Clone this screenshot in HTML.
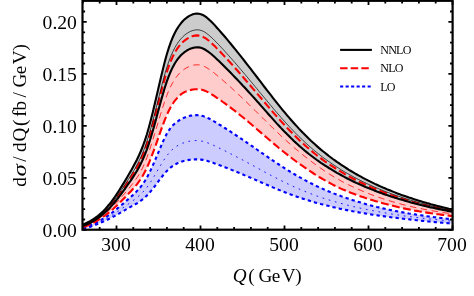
<!DOCTYPE html><html><head><meta charset="utf-8"><style>
html,body{margin:0;padding:0;background:#fff;}
body{width:474px;height:296px;position:relative;overflow:hidden;font-family:"Liberation Serif",serif;color:#000;}
.t{position:absolute;white-space:pre;line-height:1;}
.yl{font-size:19.6px;width:60px;text-align:right;left:16.9px;}
.xl{font-size:19.6px;width:60px;text-align:center;}
.lg{font-size:12px;left:380.2px;letter-spacing:-0.7px;}
#ylab span,#xlab span{position:absolute;line-height:1;top:-16.08px;white-space:pre;}
</style></head><body>
<svg width="474" height="296" viewBox="0 0 474 296" style="position:absolute;left:0;top:0">
<defs><clipPath id="c"><rect x="82.7" y="0.8" width="369.9" height="228.6"/></clipPath></defs>
<g clip-path="url(#c)" fill="none" stroke-linejoin="round">
<path d="M82.9,227.5L84.9,227.0L86.9,226.4L88.9,225.7L90.9,224.9L92.9,224.1L94.9,223.1L96.9,222.1L98.9,221.0L100.9,220.0L102.9,218.8L104.9,217.6L106.9,216.4L108.9,215.0L110.9,213.6L112.9,212.1L114.9,210.6L116.9,208.9L118.9,207.3L120.9,205.6L122.9,203.9L124.9,202.2L126.9,200.4L128.9,198.7L130.9,196.9L132.9,195.1L134.9,193.2L136.9,191.1L138.9,189.0L140.9,186.6L142.9,183.9L144.9,181.0L146.9,177.5L148.9,173.7L150.9,169.6L152.9,165.2L154.9,160.6L156.9,155.9L158.9,151.1L160.9,146.4L162.9,141.8L164.9,137.5L166.9,133.6L168.9,130.3L170.9,127.5L172.9,125.3L174.9,123.4L176.9,121.9L178.9,120.5L180.9,119.3L182.9,118.2L184.9,117.4L186.9,116.7L188.9,116.1L190.9,115.6L192.9,115.3L194.9,115.1L196.9,115.1L198.9,115.2L200.9,115.6L202.9,116.1L204.9,116.7L206.9,117.5L208.9,118.5L210.9,119.5L212.9,120.7L214.9,121.8L216.9,123.0L218.9,124.3L220.9,125.5L222.9,126.7L224.9,128.0L226.9,129.3L228.9,130.6L230.9,131.9L232.9,133.2L234.9,134.5L236.9,135.8L238.9,137.2L240.9,138.5L242.9,139.9L244.9,141.2L246.9,142.6L248.9,144.0L250.9,145.4L252.9,146.7L254.9,148.1L256.9,149.5L258.9,150.9L260.9,152.3L262.9,153.7L264.9,155.1L266.9,156.4L268.9,157.8L270.9,159.2L272.9,160.5L274.9,161.9L276.9,163.2L278.9,164.5L280.9,165.8L282.9,167.1L284.9,168.4L286.9,169.7L288.9,170.9L290.9,172.1L292.9,173.3L294.9,174.5L296.9,175.7L298.9,176.8L300.9,177.9L302.9,179.0L304.9,180.1L306.9,181.2L308.9,182.2L310.9,183.3L312.9,184.3L314.9,185.2L316.9,186.2L318.9,187.1L320.9,188.0L322.9,188.9L324.9,189.8L326.9,190.7L328.9,191.5L330.9,192.3L332.9,193.1L334.9,193.9L336.9,194.7L338.9,195.4L340.9,196.1L342.9,196.9L344.9,197.6L346.9,198.2L348.9,198.9L350.9,199.6L352.9,200.2L354.9,200.8L356.9,201.4L358.9,202.0L360.9,202.6L362.9,203.2L364.9,203.8L366.9,204.4L368.9,204.9L370.9,205.4L372.9,206.0L374.9,206.5L376.9,207.0L378.9,207.4L380.9,207.9L382.9,208.4L384.9,208.8L386.9,209.3L388.9,209.7L390.9,210.1L392.9,210.5L394.9,210.9L396.9,211.3L398.9,211.7L400.9,212.1L402.9,212.4L404.9,212.8L406.9,213.1L408.9,213.5L410.9,213.8L412.9,214.1L414.9,214.4L416.9,214.8L418.9,215.1L420.9,215.3L422.9,215.6L424.9,215.9L426.9,216.2L428.9,216.5L430.9,216.7L432.9,217.0L434.9,217.2L436.9,217.5L438.9,217.7L440.9,218.0L442.9,218.2L444.9,218.4L446.9,218.7L448.9,218.9L450.9,219.1L452.5,219.3L452.5,223.6L450.9,223.5L448.9,223.3L446.9,223.1L444.9,223.0L442.9,222.8L440.9,222.6L438.9,222.4L436.9,222.3L434.9,222.1L432.9,221.9L430.9,221.7L428.9,221.5L426.9,221.3L424.9,221.1L422.9,220.9L420.9,220.7L418.9,220.5L416.9,220.2L414.9,220.0L412.9,219.8L410.9,219.6L408.9,219.3L406.9,219.1L404.9,218.9L402.9,218.7L400.9,218.4L398.9,218.2L396.9,217.9L394.9,217.7L392.9,217.5L390.9,217.2L388.9,216.9L386.9,216.7L384.9,216.4L382.9,216.1L380.9,215.9L378.9,215.6L376.9,215.3L374.9,215.0L372.9,214.7L370.9,214.4L368.9,214.1L366.9,213.7L364.9,213.4L362.9,213.1L360.9,212.7L358.9,212.4L356.9,212.0L354.9,211.6L352.9,211.3L350.9,210.9L348.9,210.5L346.9,210.1L344.9,209.7L342.9,209.3L340.9,208.9L338.9,208.4L336.9,208.0L334.9,207.5L332.9,207.1L330.9,206.6L328.9,206.1L326.9,205.6L324.9,205.1L322.9,204.6L320.9,204.1L318.9,203.5L316.9,203.0L314.9,202.4L312.9,201.8L310.9,201.3L308.9,200.6L306.9,200.0L304.9,199.4L302.9,198.7L300.9,198.1L298.9,197.4L296.9,196.7L294.9,196.0L292.9,195.3L290.9,194.6L288.9,193.8L286.9,193.1L284.9,192.3L282.9,191.5L280.9,190.7L278.9,189.9L276.9,189.1L274.9,188.2L272.9,187.4L270.9,186.5L268.9,185.7L266.9,184.8L264.9,184.0L262.9,183.1L260.9,182.2L258.9,181.4L256.9,180.5L254.9,179.6L252.9,178.8L250.9,177.9L248.9,177.0L246.9,176.2L244.9,175.4L242.9,174.5L240.9,173.7L238.9,172.8L236.9,172.0L234.9,171.2L232.9,170.4L230.9,169.6L228.9,168.8L226.9,168.0L224.9,167.2L222.9,166.5L220.9,165.7L218.9,164.9L216.9,164.2L214.9,163.5L212.9,162.7L210.9,162.1L208.9,161.4L206.9,160.8L204.9,160.3L202.9,159.9L200.9,159.6L198.9,159.4L196.9,159.4L194.9,159.4L192.9,159.5L190.9,159.7L188.9,159.9L186.9,160.3L184.9,160.7L182.9,161.2L180.9,161.9L178.9,162.6L176.9,163.5L174.9,164.6L172.9,165.8L170.9,167.3L168.9,168.9L166.9,170.9L164.9,173.1L162.9,175.5L160.9,178.1L158.9,180.7L156.9,183.4L154.9,186.1L152.9,188.6L150.9,191.1L148.9,193.4L146.9,195.6L144.9,197.5L142.9,199.2L140.9,200.7L138.9,202.0L136.9,203.3L134.9,204.5L132.9,205.6L130.9,206.7L128.9,207.9L126.9,209.0L124.9,210.1L122.9,211.3L120.9,212.4L118.9,213.6L116.9,214.7L114.9,215.8L112.9,216.9L110.9,218.0L108.9,219.0L106.9,220.0L104.9,220.9L102.9,221.7L100.9,222.5L98.9,223.3L96.9,224.2L94.9,225.0L92.9,225.8L90.9,226.6L88.9,227.3L86.9,227.8L84.9,228.3L82.9,228.6Z" fill="#ccccff" stroke="none"/>
<path d="M82.9,225.4L84.9,224.7L86.9,223.9L88.9,223.0L90.9,222.0L92.9,220.9L94.9,219.7L96.9,218.3L98.9,216.8L100.9,215.3L102.9,213.6L104.9,211.7L106.9,209.8L108.9,207.7L110.9,205.4L112.9,203.0L114.9,200.5L116.9,197.9L118.9,195.2L120.9,192.4L122.9,189.5L124.9,186.5L126.9,183.6L128.9,180.5L130.9,177.5L132.9,174.3L134.9,170.9L136.9,167.4L138.9,163.7L140.9,159.6L142.9,155.1L144.9,150.1L146.9,144.4L148.9,138.1L150.9,131.2L152.9,123.9L154.9,116.3L156.9,108.5L158.9,100.6L160.9,92.8L162.9,85.2L164.9,78.1L166.9,71.6L168.9,65.8L170.9,60.7L172.9,56.3L174.9,52.5L176.9,49.2L178.9,46.4L180.9,44.0L182.9,42.0L184.9,40.3L186.9,38.9L188.9,37.7L190.9,36.7L192.9,36.0L194.9,35.6L196.9,35.4L198.9,35.6L200.9,36.0L202.9,36.8L204.9,37.9L206.9,39.2L208.9,40.8L210.9,42.5L212.9,44.4L214.9,46.3L216.9,48.4L218.9,50.4L220.9,52.5L222.9,54.6L224.9,56.8L226.9,58.9L228.9,61.1L230.9,63.3L232.9,65.5L234.9,67.8L236.9,70.0L238.9,72.3L240.9,74.6L242.9,76.9L244.9,79.2L246.9,81.6L248.9,83.9L250.9,86.2L252.9,88.6L254.9,90.9L256.9,93.3L258.9,95.6L260.9,98.0L262.9,100.4L264.9,102.7L266.9,105.1L268.9,107.4L270.9,109.8L272.9,112.1L274.9,114.4L276.9,116.6L278.9,118.9L280.9,121.1L282.9,123.3L284.9,125.5L286.9,127.6L288.9,129.7L290.9,131.8L292.9,133.8L294.9,135.8L296.9,137.8L298.9,139.7L300.9,141.6L302.9,143.4L304.9,145.2L306.9,147.0L308.9,148.7L310.9,150.4L312.9,152.1L314.9,153.7L316.9,155.3L318.9,156.8L320.9,158.3L322.9,159.8L324.9,161.3L326.9,162.7L328.9,164.1L330.9,165.4L332.9,166.7L334.9,168.0L336.9,169.3L338.9,170.5L340.9,171.7L342.9,172.9L344.9,174.1L346.9,175.2L348.9,176.3L350.9,177.4L352.9,178.5L354.9,179.5L356.9,180.6L358.9,181.6L360.9,182.5L362.9,183.5L364.9,184.4L366.9,185.3L368.9,186.2L370.9,187.1L372.9,188.0L374.9,188.8L376.9,189.6L378.9,190.4L380.9,191.2L382.9,192.0L384.9,192.8L386.9,193.5L388.9,194.2L390.9,195.0L392.9,195.7L394.9,196.3L396.9,197.0L398.9,197.7L400.9,198.3L402.9,199.0L404.9,199.6L406.9,200.2L408.9,200.8L410.9,201.3L412.9,201.9L414.9,202.4L416.9,203.0L418.9,203.5L420.9,204.0L422.9,204.5L424.9,205.0L426.9,205.5L428.9,206.0L430.9,206.4L432.9,206.9L434.9,207.3L436.9,207.8L438.9,208.2L440.9,208.6L442.9,209.0L444.9,209.4L446.9,209.8L448.9,210.2L450.9,210.6L452.5,210.9L452.5,216.1L450.9,215.9L448.9,215.6L446.9,215.4L444.9,215.1L442.9,214.9L440.9,214.6L438.9,214.3L436.9,214.1L434.9,213.8L432.9,213.5L430.9,213.2L428.9,212.9L426.9,212.6L424.9,212.3L422.9,211.9L420.9,211.6L418.9,211.3L416.9,210.9L414.9,210.6L412.9,210.2L410.9,209.8L408.9,209.4L406.9,209.0L404.9,208.6L402.9,208.2L400.9,207.7L398.9,207.3L396.9,206.8L394.9,206.3L392.9,205.8L390.9,205.3L388.9,204.8L386.9,204.3L384.9,203.8L382.9,203.2L380.9,202.7L378.9,202.1L376.9,201.5L374.9,200.9L372.9,200.3L370.9,199.7L368.9,199.1L366.9,198.4L364.9,197.8L362.9,197.1L360.9,196.4L358.9,195.7L356.9,195.0L354.9,194.3L352.9,193.5L350.9,192.8L348.9,192.0L346.9,191.2L344.9,190.3L342.9,189.5L340.9,188.6L338.9,187.6L336.9,186.7L334.9,185.7L332.9,184.7L330.9,183.6L328.9,182.5L326.9,181.4L324.9,180.3L322.9,179.2L320.9,178.0L318.9,176.8L316.9,175.5L314.9,174.3L312.9,173.0L310.9,171.7L308.9,170.3L306.9,169.0L304.9,167.6L302.9,166.2L300.9,164.8L298.9,163.4L296.9,162.0L294.9,160.5L292.9,159.0L290.9,157.5L288.9,156.0L286.9,154.4L284.9,152.8L282.9,151.2L280.9,149.6L278.9,148.0L276.9,146.3L274.9,144.6L272.9,142.9L270.9,141.2L268.9,139.5L266.9,137.8L264.9,136.1L262.9,134.4L260.9,132.6L258.9,130.9L256.9,129.2L254.9,127.5L252.9,125.7L250.9,124.0L248.9,122.3L246.9,120.7L244.9,119.0L242.9,117.3L240.9,115.7L238.9,114.1L236.9,112.5L234.9,110.9L232.9,109.4L230.9,107.9L228.9,106.4L226.9,104.9L224.9,103.4L222.9,102.0L220.9,100.5L218.9,99.1L216.9,97.8L214.9,96.4L212.9,95.1L210.9,93.8L208.9,92.7L206.9,91.6L204.9,90.7L202.9,90.0L200.9,89.5L198.9,89.2L196.9,89.2L194.9,89.3L192.9,89.5L190.9,89.9L188.9,90.4L186.9,91.1L184.9,91.9L182.9,93.0L180.9,94.4L178.9,96.2L176.9,98.3L174.9,100.7L172.9,103.5L170.9,106.8L168.9,110.5L166.9,114.8L164.9,119.6L162.9,124.9L160.9,130.4L158.9,136.1L156.9,141.8L154.9,147.4L152.9,152.9L150.9,158.2L148.9,163.2L146.9,167.7L144.9,171.8L142.9,175.5L140.9,178.7L138.9,181.6L136.9,184.3L134.9,186.7L132.9,189.0L130.9,191.2L128.9,193.3L126.9,195.4L124.9,197.5L122.9,199.5L120.9,201.5L118.9,203.5L116.9,205.5L114.9,207.3L112.9,209.2L110.9,210.9L108.9,212.6L106.9,214.1L104.9,215.6L102.9,217.0L100.9,218.3L98.9,219.6L96.9,220.8L94.9,222.0L92.9,223.1L90.9,224.1L88.9,225.0L86.9,225.8L84.9,226.5L82.9,227.1Z" fill="#ffcccc" stroke="none"/>
<path d="M82.9,224.4L84.9,223.6L86.9,222.8L88.9,221.8L90.9,220.7L92.9,219.5L94.9,218.2L96.9,216.7L98.9,215.1L100.9,213.3L102.9,211.4L104.9,209.4L106.9,207.1L108.9,204.8L110.9,202.3L112.9,199.6L114.9,196.8L116.9,193.8L118.9,190.8L120.9,187.6L122.9,184.4L124.9,181.1L126.9,177.7L128.9,174.3L130.9,170.9L132.9,167.3L134.9,163.6L136.9,159.7L138.9,155.5L140.9,151.0L142.9,146.0L144.9,140.4L146.9,134.2L148.9,127.2L150.9,119.7L152.9,111.7L154.9,103.3L156.9,94.8L158.9,86.1L160.9,77.5L162.9,69.2L164.9,61.3L166.9,54.0L168.9,47.6L170.9,41.9L172.9,37.0L174.9,32.8L176.9,29.1L178.9,26.0L180.9,23.3L182.9,21.0L184.9,19.1L186.9,17.5L188.9,16.2L190.9,15.1L192.9,14.3L194.9,13.8L196.9,13.6L198.9,13.7L200.9,14.2L202.9,15.0L204.9,16.2L206.9,17.7L208.9,19.4L210.9,21.3L212.9,23.3L214.9,25.4L216.9,27.7L218.9,29.9L220.9,32.2L222.9,34.5L224.9,36.8L226.9,39.2L228.9,41.6L230.9,44.0L232.9,46.5L234.9,48.9L236.9,51.4L238.9,53.9L240.9,56.4L242.9,58.9L244.9,61.5L246.9,64.1L248.9,66.6L250.9,69.2L252.9,71.8L254.9,74.4L256.9,77.0L258.9,79.6L260.9,82.2L262.9,84.9L264.9,87.5L266.9,90.1L268.9,92.7L270.9,95.2L272.9,97.8L274.9,100.4L276.9,102.9L278.9,105.4L280.9,107.8L282.9,110.3L284.9,112.7L286.9,115.1L288.9,117.4L290.9,119.7L292.9,122.0L294.9,124.2L296.9,126.4L298.9,128.6L300.9,130.7L302.9,132.8L304.9,134.8L306.9,136.8L308.9,138.8L310.9,140.7L312.9,142.5L314.9,144.3L316.9,146.1L318.9,147.9L320.9,149.6L322.9,151.2L324.9,152.8L326.9,154.4L328.9,156.0L330.9,157.5L332.9,159.0L334.9,160.4L336.9,161.9L338.9,163.2L340.9,164.6L342.9,165.9L344.9,167.2L346.9,168.5L348.9,169.8L350.9,171.0L352.9,172.2L354.9,173.4L356.9,174.5L358.9,175.6L360.9,176.7L362.9,177.8L364.9,178.9L366.9,179.9L368.9,180.9L370.9,181.9L372.9,182.9L374.9,183.9L376.9,184.8L378.9,185.7L380.9,186.6L382.9,187.5L384.9,188.3L386.9,189.2L388.9,190.0L390.9,190.8L392.9,191.6L394.9,192.4L396.9,193.2L398.9,193.9L400.9,194.7L402.9,195.4L404.9,196.1L406.9,196.8L408.9,197.5L410.9,198.1L412.9,198.8L414.9,199.4L416.9,200.1L418.9,200.7L420.9,201.3L422.9,201.9L424.9,202.5L426.9,203.1L428.9,203.6L430.9,204.2L432.9,204.7L434.9,205.2L436.9,205.8L438.9,206.3L440.9,206.8L442.9,207.3L444.9,207.7L446.9,208.2L448.9,208.7L450.9,209.1L452.5,209.5L452.5,211.8L450.9,211.5L448.9,211.1L446.9,210.7L444.9,210.3L442.9,209.9L440.9,209.5L438.9,209.1L436.9,208.7L434.9,208.2L432.9,207.8L430.9,207.4L428.9,206.9L426.9,206.4L424.9,206.0L422.9,205.5L420.9,205.0L418.9,204.5L416.9,204.0L414.9,203.5L412.9,202.9L410.9,202.4L408.9,201.8L406.9,201.3L404.9,200.7L402.9,200.1L400.9,199.5L398.9,198.9L396.9,198.3L394.9,197.7L392.9,197.0L390.9,196.4L388.9,195.7L386.9,195.0L384.9,194.4L382.9,193.7L380.9,192.9L378.9,192.2L376.9,191.5L374.9,190.7L372.9,189.9L370.9,189.1L368.9,188.3L366.9,187.5L364.9,186.7L362.9,185.8L360.9,184.9L358.9,184.0L356.9,183.1L354.9,182.2L352.9,181.2L350.9,180.2L348.9,179.2L346.9,178.2L344.9,177.2L342.9,176.1L340.9,175.0L338.9,173.9L336.9,172.8L334.9,171.6L332.9,170.4L330.9,169.2L328.9,168.0L326.9,166.7L324.9,165.5L322.9,164.1L320.9,162.8L318.9,161.4L316.9,160.0L314.9,158.5L312.9,157.0L310.9,155.5L308.9,154.0L306.9,152.4L304.9,150.7L302.9,149.0L300.9,147.3L298.9,145.6L296.9,143.7L294.9,141.9L292.9,140.0L290.9,138.1L288.9,136.1L286.9,134.1L284.9,132.1L282.9,130.0L280.9,127.9L278.9,125.7L276.9,123.6L274.9,121.4L272.9,119.1L270.9,116.9L268.9,114.7L266.9,112.4L264.9,110.1L262.9,107.9L260.9,105.6L258.9,103.3L256.9,101.1L254.9,98.8L252.9,96.6L250.9,94.4L248.9,92.2L246.9,90.0L244.9,87.8L242.9,85.7L240.9,83.5L238.9,81.4L236.9,79.3L234.9,77.2L232.9,75.1L230.9,73.0L228.9,71.0L226.9,69.0L224.9,67.0L222.9,65.0L220.9,63.0L218.9,61.1L216.9,59.2L214.9,57.3L212.9,55.5L210.9,53.8L208.9,52.2L206.9,50.8L204.9,49.5L202.9,48.5L200.9,47.8L198.9,47.4L196.9,47.3L194.9,47.5L192.9,47.9L190.9,48.5L188.9,49.4L186.9,50.5L184.9,51.9L182.9,53.5L180.9,55.3L178.9,57.6L176.9,60.2L174.9,63.3L172.9,66.9L170.9,71.0L168.9,75.8L166.9,81.2L164.9,87.3L162.9,94.1L160.9,101.2L158.9,108.6L156.9,116.0L154.9,123.4L152.9,130.5L150.9,137.2L148.9,143.6L146.9,149.4L144.9,154.7L142.9,159.4L140.9,163.5L138.9,167.4L136.9,170.9L134.9,174.2L132.9,177.3L130.9,180.3L128.9,183.2L126.9,186.0L124.9,188.8L122.9,191.6L120.9,194.3L118.9,197.0L116.9,199.5L114.9,202.0L112.9,204.4L110.9,206.6L108.9,208.7L106.9,210.7L104.9,212.6L102.9,214.3L100.9,215.9L98.9,217.4L96.9,218.8L94.9,220.1L92.9,221.4L90.9,222.5L88.9,223.5L86.9,224.4L84.9,225.2L82.9,225.8Z" fill="#cccccc" stroke="none"/>
<path d="M82.9,227.5L84.9,227.0L86.9,226.4L88.9,225.7L90.9,224.9L92.9,224.1L94.9,223.1L96.9,222.1L98.9,221.0L100.9,220.0L102.9,218.8L104.9,217.6L106.9,216.4L108.9,215.0L110.9,213.6L112.9,212.1L114.9,210.6L116.9,208.9L118.9,207.3L120.9,205.6L122.9,203.9L124.9,202.2L126.9,200.4L128.9,198.7L130.9,196.9L132.9,195.1L134.9,193.2L136.9,191.1L138.9,189.0L140.9,186.6L142.9,183.9L144.9,181.0L146.9,177.5L148.9,173.7L150.9,169.6L152.9,165.2L154.9,160.6L156.9,155.9L158.9,151.1L160.9,146.4L162.9,141.8L164.9,137.5L166.9,133.6L168.9,130.3L170.9,127.5L172.9,125.3L174.9,123.4L176.9,121.9L178.9,120.5L180.9,119.3L182.9,118.2L184.9,117.4L186.9,116.7L188.9,116.1L190.9,115.6L192.9,115.3L194.9,115.1L196.9,115.1L198.9,115.2L200.9,115.6L202.9,116.1L204.9,116.7L206.9,117.5L208.9,118.5L210.9,119.5L212.9,120.7L214.9,121.8L216.9,123.0L218.9,124.3L220.9,125.5L222.9,126.7L224.9,128.0L226.9,129.3L228.9,130.6L230.9,131.9L232.9,133.2L234.9,134.5L236.9,135.8L238.9,137.2L240.9,138.5L242.9,139.9L244.9,141.2L246.9,142.6L248.9,144.0L250.9,145.4L252.9,146.7L254.9,148.1L256.9,149.5L258.9,150.9L260.9,152.3L262.9,153.7L264.9,155.1L266.9,156.4L268.9,157.8L270.9,159.2L272.9,160.5L274.9,161.9L276.9,163.2L278.9,164.5L280.9,165.8L282.9,167.1L284.9,168.4L286.9,169.7L288.9,170.9L290.9,172.1L292.9,173.3L294.9,174.5L296.9,175.7L298.9,176.8L300.9,177.9L302.9,179.0L304.9,180.1L306.9,181.2L308.9,182.2L310.9,183.3L312.9,184.3L314.9,185.2L316.9,186.2L318.9,187.1L320.9,188.0L322.9,188.9L324.9,189.8L326.9,190.7L328.9,191.5L330.9,192.3L332.9,193.1L334.9,193.9L336.9,194.7L338.9,195.4L340.9,196.1L342.9,196.9L344.9,197.6L346.9,198.2L348.9,198.9L350.9,199.6L352.9,200.2L354.9,200.8L356.9,201.4L358.9,202.0L360.9,202.6L362.9,203.2L364.9,203.8L366.9,204.4L368.9,204.9L370.9,205.4L372.9,206.0L374.9,206.5L376.9,207.0L378.9,207.4L380.9,207.9L382.9,208.4L384.9,208.8L386.9,209.3L388.9,209.7L390.9,210.1L392.9,210.5L394.9,210.9L396.9,211.3L398.9,211.7L400.9,212.1L402.9,212.4L404.9,212.8L406.9,213.1L408.9,213.5L410.9,213.8L412.9,214.1L414.9,214.4L416.9,214.8L418.9,215.1L420.9,215.3L422.9,215.6L424.9,215.9L426.9,216.2L428.9,216.5L430.9,216.7L432.9,217.0L434.9,217.2L436.9,217.5L438.9,217.7L440.9,218.0L442.9,218.2L444.9,218.4L446.9,218.7L448.9,218.9L450.9,219.1L452.5,219.3" stroke="#0000ff" stroke-width="2.1" stroke-dasharray="3.3,3.1"/>
<path d="M82.9,228.6L84.9,228.3L86.9,227.8L88.9,227.3L90.9,226.6L92.9,225.8L94.9,225.0L96.9,224.2L98.9,223.3L100.9,222.5L102.9,221.7L104.9,220.9L106.9,220.0L108.9,219.0L110.9,218.0L112.9,216.9L114.9,215.8L116.9,214.7L118.9,213.6L120.9,212.4L122.9,211.3L124.9,210.1L126.9,209.0L128.9,207.9L130.9,206.7L132.9,205.6L134.9,204.5L136.9,203.3L138.9,202.0L140.9,200.7L142.9,199.2L144.9,197.5L146.9,195.6L148.9,193.4L150.9,191.1L152.9,188.6L154.9,186.1L156.9,183.4L158.9,180.7L160.9,178.1L162.9,175.5L164.9,173.1L166.9,170.9L168.9,168.9L170.9,167.3L172.9,165.8L174.9,164.6L176.9,163.5L178.9,162.6L180.9,161.9L182.9,161.2L184.9,160.7L186.9,160.3L188.9,159.9L190.9,159.7L192.9,159.5L194.9,159.4L196.9,159.4L198.9,159.4L200.9,159.6L202.9,159.9L204.9,160.3L206.9,160.8L208.9,161.4L210.9,162.1L212.9,162.7L214.9,163.5L216.9,164.2L218.9,164.9L220.9,165.7L222.9,166.5L224.9,167.2L226.9,168.0L228.9,168.8L230.9,169.6L232.9,170.4L234.9,171.2L236.9,172.0L238.9,172.8L240.9,173.7L242.9,174.5L244.9,175.4L246.9,176.2L248.9,177.0L250.9,177.9L252.9,178.8L254.9,179.6L256.9,180.5L258.9,181.4L260.9,182.2L262.9,183.1L264.9,184.0L266.9,184.8L268.9,185.7L270.9,186.5L272.9,187.4L274.9,188.2L276.9,189.1L278.9,189.9L280.9,190.7L282.9,191.5L284.9,192.3L286.9,193.1L288.9,193.8L290.9,194.6L292.9,195.3L294.9,196.0L296.9,196.7L298.9,197.4L300.9,198.1L302.9,198.7L304.9,199.4L306.9,200.0L308.9,200.6L310.9,201.3L312.9,201.8L314.9,202.4L316.9,203.0L318.9,203.5L320.9,204.1L322.9,204.6L324.9,205.1L326.9,205.6L328.9,206.1L330.9,206.6L332.9,207.1L334.9,207.5L336.9,208.0L338.9,208.4L340.9,208.9L342.9,209.3L344.9,209.7L346.9,210.1L348.9,210.5L350.9,210.9L352.9,211.3L354.9,211.6L356.9,212.0L358.9,212.4L360.9,212.7L362.9,213.1L364.9,213.4L366.9,213.7L368.9,214.1L370.9,214.4L372.9,214.7L374.9,215.0L376.9,215.3L378.9,215.6L380.9,215.9L382.9,216.1L384.9,216.4L386.9,216.7L388.9,216.9L390.9,217.2L392.9,217.5L394.9,217.7L396.9,217.9L398.9,218.2L400.9,218.4L402.9,218.7L404.9,218.9L406.9,219.1L408.9,219.3L410.9,219.6L412.9,219.8L414.9,220.0L416.9,220.2L418.9,220.5L420.9,220.7L422.9,220.9L424.9,221.1L426.9,221.3L428.9,221.5L430.9,221.7L432.9,221.9L434.9,222.1L436.9,222.3L438.9,222.4L440.9,222.6L442.9,222.8L444.9,223.0L446.9,223.1L448.9,223.3L450.9,223.5L452.5,223.6" stroke="#0000ff" stroke-width="2.1" stroke-dasharray="3.3,3.1"/>
<path d="M82.9,228.1L84.9,227.7L86.9,227.2L88.9,226.5L90.9,225.8L92.9,225.0L94.9,224.2L96.9,223.2L98.9,222.3L100.9,221.4L102.9,220.5L104.9,219.5L106.9,218.4L108.9,217.2L110.9,216.0L112.9,214.8L114.9,213.4L116.9,212.1L118.9,210.7L120.9,209.3L122.9,207.9L124.9,206.4L126.9,205.0L128.9,203.6L130.9,202.1L132.9,200.7L134.9,199.2L136.9,197.6L138.9,195.9L140.9,194.1L142.9,192.1L144.9,189.9L146.9,187.4L148.9,184.6L150.9,181.6L152.9,178.3L154.9,175.0L156.9,171.6L158.9,168.1L160.9,164.8L162.9,161.5L164.9,158.5L166.9,155.7L168.9,153.2L170.9,151.0L172.9,149.1L174.9,147.4L176.9,146.1L178.9,144.9L180.9,143.9L182.9,143.1L184.9,142.4L186.9,141.8L188.9,141.3L190.9,141.0L192.9,140.7L194.9,140.6L196.9,140.6L198.9,140.7L200.9,141.0L202.9,141.4L204.9,141.9L206.9,142.6L208.9,143.3L210.9,144.1L212.9,145.0L214.9,146.0L216.9,146.9L218.9,147.9L220.9,148.9L222.9,149.8L224.9,150.8L226.9,151.8L228.9,152.8L230.9,153.9L232.9,154.9L234.9,155.9L236.9,157.0L238.9,158.0L240.9,159.1L242.9,160.1L244.9,161.2L246.9,162.3L248.9,163.4L250.9,164.4L252.9,165.5L254.9,166.6L256.9,167.7L258.9,168.8L260.9,169.9L262.9,171.0L264.9,172.1L266.9,173.1L268.9,174.2L270.9,175.3L272.9,176.3L274.9,177.4L276.9,178.4L278.9,179.5L280.9,180.5L282.9,181.5L284.9,182.5L286.9,183.5L288.9,184.4L290.9,185.4L292.9,186.3L294.9,187.2L296.9,188.1L298.9,188.9L300.9,189.8L302.9,190.6L304.9,191.4L306.9,192.2L308.9,193.0L310.9,193.8L312.9,194.5L314.9,195.3L316.9,196.0L318.9,196.7L320.9,197.4L322.9,198.0L324.9,198.7L326.9,199.3L328.9,199.9L330.9,200.6L332.9,201.2L334.9,201.7L336.9,202.3L338.9,202.9L340.9,203.4L342.9,203.9L344.9,204.5L346.9,205.0L348.9,205.5L350.9,206.0L352.9,206.5L354.9,206.9L356.9,207.4L358.9,207.8L360.9,208.3L362.9,208.7L364.9,209.1L366.9,209.5L368.9,209.9L370.9,210.3L372.9,210.7L374.9,211.1L376.9,211.5L378.9,211.8L380.9,212.2L382.9,212.5L384.9,212.9L386.9,213.2L388.9,213.6L390.9,213.9L392.9,214.2L394.9,214.5L396.9,214.8L398.9,215.1L400.9,215.4L402.9,215.7L404.9,216.0L406.9,216.2L408.9,216.5L410.9,216.8L412.9,217.0L414.9,217.3L416.9,217.5L418.9,217.8L420.9,218.0L422.9,218.2L424.9,218.5L426.9,218.7L428.9,218.9L430.9,219.1L432.9,219.3L434.9,219.5L436.9,219.7L438.9,219.9L440.9,220.1L442.9,220.3L444.9,220.5L446.9,220.7L448.9,220.9L450.9,221.1L452.5,221.2" stroke="#0000ff" stroke-width="0.9" stroke-dasharray="1.7,4.7"/>
<path d="M82.9,225.4L84.9,224.7L86.9,223.9L88.9,223.0L90.9,222.0L92.9,220.9L94.9,219.7L96.9,218.3L98.9,216.8L100.9,215.3L102.9,213.6L104.9,211.7L106.9,209.8L108.9,207.7L110.9,205.4L112.9,203.0L114.9,200.5L116.9,197.9L118.9,195.2L120.9,192.4L122.9,189.5L124.9,186.5L126.9,183.6L128.9,180.5L130.9,177.5L132.9,174.3L134.9,170.9L136.9,167.4L138.9,163.7L140.9,159.6L142.9,155.1L144.9,150.1L146.9,144.4L148.9,138.1L150.9,131.2L152.9,123.9L154.9,116.3L156.9,108.5L158.9,100.6L160.9,92.8L162.9,85.2L164.9,78.1L166.9,71.6L168.9,65.8L170.9,60.7L172.9,56.3L174.9,52.5L176.9,49.2L178.9,46.4L180.9,44.0L182.9,42.0L184.9,40.3L186.9,38.9L188.9,37.7L190.9,36.7L192.9,36.0L194.9,35.6L196.9,35.4L198.9,35.6L200.9,36.0L202.9,36.8L204.9,37.9L206.9,39.2L208.9,40.8L210.9,42.5L212.9,44.4L214.9,46.3L216.9,48.4L218.9,50.4L220.9,52.5L222.9,54.6L224.9,56.8L226.9,58.9L228.9,61.1L230.9,63.3L232.9,65.5L234.9,67.8L236.9,70.0L238.9,72.3L240.9,74.6L242.9,76.9L244.9,79.2L246.9,81.6L248.9,83.9L250.9,86.2L252.9,88.6L254.9,90.9L256.9,93.3L258.9,95.6L260.9,98.0L262.9,100.4L264.9,102.7L266.9,105.1L268.9,107.4L270.9,109.8L272.9,112.1L274.9,114.4L276.9,116.6L278.9,118.9L280.9,121.1L282.9,123.3L284.9,125.5L286.9,127.6L288.9,129.7L290.9,131.8L292.9,133.8L294.9,135.8L296.9,137.8L298.9,139.7L300.9,141.6L302.9,143.4L304.9,145.2L306.9,147.0L308.9,148.7L310.9,150.4L312.9,152.1L314.9,153.7L316.9,155.3L318.9,156.8L320.9,158.3L322.9,159.8L324.9,161.3L326.9,162.7L328.9,164.1L330.9,165.4L332.9,166.7L334.9,168.0L336.9,169.3L338.9,170.5L340.9,171.7L342.9,172.9L344.9,174.1L346.9,175.2L348.9,176.3L350.9,177.4L352.9,178.5L354.9,179.5L356.9,180.6L358.9,181.6L360.9,182.5L362.9,183.5L364.9,184.4L366.9,185.3L368.9,186.2L370.9,187.1L372.9,188.0L374.9,188.8L376.9,189.6L378.9,190.4L380.9,191.2L382.9,192.0L384.9,192.8L386.9,193.5L388.9,194.2L390.9,195.0L392.9,195.7L394.9,196.3L396.9,197.0L398.9,197.7L400.9,198.3L402.9,199.0L404.9,199.6L406.9,200.2L408.9,200.8L410.9,201.3L412.9,201.9L414.9,202.4L416.9,203.0L418.9,203.5L420.9,204.0L422.9,204.5L424.9,205.0L426.9,205.5L428.9,206.0L430.9,206.4L432.9,206.9L434.9,207.3L436.9,207.8L438.9,208.2L440.9,208.6L442.9,209.0L444.9,209.4L446.9,209.8L448.9,210.2L450.9,210.6L452.5,210.9" stroke="#ff0000" stroke-width="2.1" stroke-dasharray="7.9,3.4"/>
<path d="M82.9,227.1L84.9,226.5L86.9,225.8L88.9,225.0L90.9,224.1L92.9,223.1L94.9,222.0L96.9,220.8L98.9,219.6L100.9,218.3L102.9,217.0L104.9,215.6L106.9,214.1L108.9,212.6L110.9,210.9L112.9,209.2L114.9,207.3L116.9,205.5L118.9,203.5L120.9,201.5L122.9,199.5L124.9,197.5L126.9,195.4L128.9,193.3L130.9,191.2L132.9,189.0L134.9,186.7L136.9,184.3L138.9,181.6L140.9,178.7L142.9,175.5L144.9,171.8L146.9,167.7L148.9,163.2L150.9,158.2L152.9,152.9L154.9,147.4L156.9,141.8L158.9,136.1L160.9,130.4L162.9,124.9L164.9,119.6L166.9,114.8L168.9,110.5L170.9,106.8L172.9,103.5L174.9,100.7L176.9,98.3L178.9,96.2L180.9,94.4L182.9,93.0L184.9,91.9L186.9,91.1L188.9,90.4L190.9,89.9L192.9,89.5L194.9,89.3L196.9,89.2L198.9,89.2L200.9,89.5L202.9,90.0L204.9,90.7L206.9,91.6L208.9,92.7L210.9,93.8L212.9,95.1L214.9,96.4L216.9,97.8L218.9,99.1L220.9,100.5L222.9,102.0L224.9,103.4L226.9,104.9L228.9,106.4L230.9,107.9L232.9,109.4L234.9,110.9L236.9,112.5L238.9,114.1L240.9,115.7L242.9,117.3L244.9,119.0L246.9,120.7L248.9,122.3L250.9,124.0L252.9,125.7L254.9,127.5L256.9,129.2L258.9,130.9L260.9,132.6L262.9,134.4L264.9,136.1L266.9,137.8L268.9,139.5L270.9,141.2L272.9,142.9L274.9,144.6L276.9,146.3L278.9,148.0L280.9,149.6L282.9,151.2L284.9,152.8L286.9,154.4L288.9,156.0L290.9,157.5L292.9,159.0L294.9,160.5L296.9,162.0L298.9,163.4L300.9,164.8L302.9,166.2L304.9,167.6L306.9,169.0L308.9,170.3L310.9,171.7L312.9,173.0L314.9,174.3L316.9,175.5L318.9,176.8L320.9,178.0L322.9,179.2L324.9,180.3L326.9,181.4L328.9,182.5L330.9,183.6L332.9,184.7L334.9,185.7L336.9,186.7L338.9,187.6L340.9,188.6L342.9,189.5L344.9,190.3L346.9,191.2L348.9,192.0L350.9,192.8L352.9,193.5L354.9,194.3L356.9,195.0L358.9,195.7L360.9,196.4L362.9,197.1L364.9,197.8L366.9,198.4L368.9,199.1L370.9,199.7L372.9,200.3L374.9,200.9L376.9,201.5L378.9,202.1L380.9,202.7L382.9,203.2L384.9,203.8L386.9,204.3L388.9,204.8L390.9,205.3L392.9,205.8L394.9,206.3L396.9,206.8L398.9,207.3L400.9,207.7L402.9,208.2L404.9,208.6L406.9,209.0L408.9,209.4L410.9,209.8L412.9,210.2L414.9,210.6L416.9,210.9L418.9,211.3L420.9,211.6L422.9,211.9L424.9,212.3L426.9,212.6L428.9,212.9L430.9,213.2L432.9,213.5L434.9,213.8L436.9,214.1L438.9,214.3L440.9,214.6L442.9,214.9L444.9,215.1L446.9,215.4L448.9,215.6L450.9,215.9L452.5,216.1" stroke="#ff0000" stroke-width="2.1" stroke-dasharray="7.9,3.4"/>
<path d="M82.9,226.2L84.9,225.6L86.9,224.9L88.9,224.0L90.9,223.1L92.9,222.0L94.9,220.9L96.9,219.6L98.9,218.3L100.9,216.9L102.9,215.4L104.9,213.8L106.9,212.1L108.9,210.4L110.9,208.5L112.9,206.5L114.9,204.4L116.9,202.3L118.9,200.1L120.9,197.8L122.9,195.5L124.9,193.2L126.9,190.8L128.9,188.4L130.9,185.9L132.9,183.4L134.9,180.7L136.9,177.8L138.9,174.7L140.9,171.2L142.9,167.2L144.9,162.7L146.9,157.6L148.9,151.9L150.9,145.8L152.9,139.5L154.9,133.0L156.9,126.4L158.9,119.8L160.9,113.2L162.9,106.8L164.9,100.8L166.9,95.2L168.9,90.3L170.9,86.0L172.9,82.3L174.9,79.0L176.9,76.3L178.9,73.9L180.9,71.9L182.9,70.2L184.9,68.8L186.9,67.6L188.9,66.7L190.9,65.9L192.9,65.3L194.9,64.9L196.9,64.8L198.9,64.9L200.9,65.2L202.9,65.8L204.9,66.7L206.9,67.8L208.9,69.1L210.9,70.5L212.9,72.0L214.9,73.6L216.9,75.2L218.9,76.9L220.9,78.6L222.9,80.3L224.9,82.1L226.9,83.8L228.9,85.6L230.9,87.4L232.9,89.3L234.9,91.1L236.9,93.0L238.9,94.8L240.9,96.7L242.9,98.6L244.9,100.6L246.9,102.5L248.9,104.4L250.9,106.4L252.9,108.4L254.9,110.3L256.9,112.3L258.9,114.3L260.9,116.3L262.9,118.2L264.9,120.2L266.9,122.2L268.9,124.1L270.9,126.1L272.9,128.1L274.9,130.0L276.9,131.9L278.9,133.8L280.9,135.7L282.9,137.6L284.9,139.4L286.9,141.2L288.9,143.0L290.9,144.8L292.9,146.5L294.9,148.3L296.9,149.9L298.9,151.6L300.9,153.2L302.9,154.9L304.9,156.5L306.9,158.0L308.9,159.6L310.9,161.1L312.9,162.7L314.9,164.1L316.9,165.6L318.9,167.0L320.9,168.4L322.9,169.8L324.9,171.2L326.9,172.5L328.9,173.8L330.9,175.0L332.9,176.2L334.9,177.4L336.9,178.6L338.9,179.7L340.9,180.9L342.9,181.9L344.9,183.0L346.9,184.0L348.9,185.0L350.9,185.9L352.9,186.9L354.9,187.8L356.9,188.7L358.9,189.6L360.9,190.4L362.9,191.3L364.9,192.1L366.9,192.9L368.9,193.7L370.9,194.5L372.9,195.2L374.9,195.9L376.9,196.7L378.9,197.4L380.9,198.0L382.9,198.7L384.9,199.4L386.9,200.0L388.9,200.6L390.9,201.2L392.9,201.8L394.9,202.4L396.9,203.0L398.9,203.5L400.9,204.1L402.9,204.6L404.9,205.1L406.9,205.6L408.9,206.1L410.9,206.5L412.9,207.0L414.9,207.4L416.9,207.8L418.9,208.2L420.9,208.6L422.9,209.0L424.9,209.4L426.9,209.8L428.9,210.2L430.9,210.5L432.9,210.9L434.9,211.2L436.9,211.5L438.9,211.8L440.9,212.2L442.9,212.5L444.9,212.8L446.9,213.1L448.9,213.4L450.9,213.7L452.5,213.9" stroke="#ff0000" stroke-width="0.8" stroke-dasharray="6.4,4.6" stroke-dashoffset="5.5"/>
<path d="M82.9,224.4L84.9,223.6L86.9,222.8L88.9,221.8L90.9,220.7L92.9,219.5L94.9,218.2L96.9,216.7L98.9,215.1L100.9,213.3L102.9,211.4L104.9,209.4L106.9,207.1L108.9,204.8L110.9,202.3L112.9,199.6L114.9,196.8L116.9,193.8L118.9,190.8L120.9,187.6L122.9,184.4L124.9,181.1L126.9,177.7L128.9,174.3L130.9,170.9L132.9,167.3L134.9,163.6L136.9,159.7L138.9,155.5L140.9,151.0L142.9,146.0L144.9,140.4L146.9,134.2L148.9,127.2L150.9,119.7L152.9,111.7L154.9,103.3L156.9,94.8L158.9,86.1L160.9,77.5L162.9,69.2L164.9,61.3L166.9,54.0L168.9,47.6L170.9,41.9L172.9,37.0L174.9,32.8L176.9,29.1L178.9,26.0L180.9,23.3L182.9,21.0L184.9,19.1L186.9,17.5L188.9,16.2L190.9,15.1L192.9,14.3L194.9,13.8L196.9,13.6L198.9,13.7L200.9,14.2L202.9,15.0L204.9,16.2L206.9,17.7L208.9,19.4L210.9,21.3L212.9,23.3L214.9,25.4L216.9,27.7L218.9,29.9L220.9,32.2L222.9,34.5L224.9,36.8L226.9,39.2L228.9,41.6L230.9,44.0L232.9,46.5L234.9,48.9L236.9,51.4L238.9,53.9L240.9,56.4L242.9,58.9L244.9,61.5L246.9,64.1L248.9,66.6L250.9,69.2L252.9,71.8L254.9,74.4L256.9,77.0L258.9,79.6L260.9,82.2L262.9,84.9L264.9,87.5L266.9,90.1L268.9,92.7L270.9,95.2L272.9,97.8L274.9,100.4L276.9,102.9L278.9,105.4L280.9,107.8L282.9,110.3L284.9,112.7L286.9,115.1L288.9,117.4L290.9,119.7L292.9,122.0L294.9,124.2L296.9,126.4L298.9,128.6L300.9,130.7L302.9,132.8L304.9,134.8L306.9,136.8L308.9,138.8L310.9,140.7L312.9,142.5L314.9,144.3L316.9,146.1L318.9,147.9L320.9,149.6L322.9,151.2L324.9,152.8L326.9,154.4L328.9,156.0L330.9,157.5L332.9,159.0L334.9,160.4L336.9,161.9L338.9,163.2L340.9,164.6L342.9,165.9L344.9,167.2L346.9,168.5L348.9,169.8L350.9,171.0L352.9,172.2L354.9,173.4L356.9,174.5L358.9,175.6L360.9,176.7L362.9,177.8L364.9,178.9L366.9,179.9L368.9,180.9L370.9,181.9L372.9,182.9L374.9,183.9L376.9,184.8L378.9,185.7L380.9,186.6L382.9,187.5L384.9,188.3L386.9,189.2L388.9,190.0L390.9,190.8L392.9,191.6L394.9,192.4L396.9,193.2L398.9,193.9L400.9,194.7L402.9,195.4L404.9,196.1L406.9,196.8L408.9,197.5L410.9,198.1L412.9,198.8L414.9,199.4L416.9,200.1L418.9,200.7L420.9,201.3L422.9,201.9L424.9,202.5L426.9,203.1L428.9,203.6L430.9,204.2L432.9,204.7L434.9,205.2L436.9,205.8L438.9,206.3L440.9,206.8L442.9,207.3L444.9,207.7L446.9,208.2L448.9,208.7L450.9,209.1L452.5,209.5" stroke="#000" stroke-width="2.1"/>
<path d="M82.9,225.8L84.9,225.2L86.9,224.4L88.9,223.5L90.9,222.5L92.9,221.4L94.9,220.1L96.9,218.8L98.9,217.4L100.9,215.9L102.9,214.3L104.9,212.6L106.9,210.7L108.9,208.7L110.9,206.6L112.9,204.4L114.9,202.0L116.9,199.5L118.9,197.0L120.9,194.3L122.9,191.6L124.9,188.8L126.9,186.0L128.9,183.2L130.9,180.3L132.9,177.3L134.9,174.2L136.9,170.9L138.9,167.4L140.9,163.5L142.9,159.4L144.9,154.7L146.9,149.4L148.9,143.6L150.9,137.2L152.9,130.5L154.9,123.4L156.9,116.0L158.9,108.6L160.9,101.2L162.9,94.1L164.9,87.3L166.9,81.2L168.9,75.8L170.9,71.0L172.9,66.9L174.9,63.3L176.9,60.2L178.9,57.6L180.9,55.3L182.9,53.5L184.9,51.9L186.9,50.5L188.9,49.4L190.9,48.5L192.9,47.9L194.9,47.5L196.9,47.3L198.9,47.4L200.9,47.8L202.9,48.5L204.9,49.5L206.9,50.8L208.9,52.2L210.9,53.8L212.9,55.5L214.9,57.3L216.9,59.2L218.9,61.1L220.9,63.0L222.9,65.0L224.9,67.0L226.9,69.0L228.9,71.0L230.9,73.0L232.9,75.1L234.9,77.2L236.9,79.3L238.9,81.4L240.9,83.5L242.9,85.7L244.9,87.8L246.9,90.0L248.9,92.2L250.9,94.4L252.9,96.6L254.9,98.8L256.9,101.1L258.9,103.3L260.9,105.6L262.9,107.9L264.9,110.1L266.9,112.4L268.9,114.7L270.9,116.9L272.9,119.1L274.9,121.4L276.9,123.6L278.9,125.7L280.9,127.9L282.9,130.0L284.9,132.1L286.9,134.1L288.9,136.1L290.9,138.1L292.9,140.0L294.9,141.9L296.9,143.7L298.9,145.6L300.9,147.3L302.9,149.0L304.9,150.7L306.9,152.4L308.9,154.0L310.9,155.5L312.9,157.0L314.9,158.5L316.9,160.0L318.9,161.4L320.9,162.8L322.9,164.1L324.9,165.5L326.9,166.7L328.9,168.0L330.9,169.2L332.9,170.4L334.9,171.6L336.9,172.8L338.9,173.9L340.9,175.0L342.9,176.1L344.9,177.2L346.9,178.2L348.9,179.2L350.9,180.2L352.9,181.2L354.9,182.2L356.9,183.1L358.9,184.0L360.9,184.9L362.9,185.8L364.9,186.7L366.9,187.5L368.9,188.3L370.9,189.1L372.9,189.9L374.9,190.7L376.9,191.5L378.9,192.2L380.9,192.9L382.9,193.7L384.9,194.4L386.9,195.0L388.9,195.7L390.9,196.4L392.9,197.0L394.9,197.7L396.9,198.3L398.9,198.9L400.9,199.5L402.9,200.1L404.9,200.7L406.9,201.3L408.9,201.8L410.9,202.4L412.9,202.9L414.9,203.5L416.9,204.0L418.9,204.5L420.9,205.0L422.9,205.5L424.9,206.0L426.9,206.4L428.9,206.9L430.9,207.4L432.9,207.8L434.9,208.2L436.9,208.7L438.9,209.1L440.9,209.5L442.9,209.9L444.9,210.3L446.9,210.7L448.9,211.1L450.9,211.5L452.5,211.8" stroke="#000" stroke-width="2.1"/>
<path d="M82.9,225.1L84.9,224.4L86.9,223.6L88.9,222.7L90.9,221.6L92.9,220.4L94.9,219.2L96.9,217.8L98.9,216.2L100.9,214.6L102.9,212.9L104.9,211.0L106.9,208.9L108.9,206.7L110.9,204.4L112.9,201.9L114.9,199.3L116.9,196.6L118.9,193.8L120.9,190.9L122.9,187.9L124.9,184.8L126.9,181.7L128.9,178.6L130.9,175.4L132.9,172.1L134.9,168.7L136.9,165.0L138.9,161.2L140.9,157.0L142.9,152.4L144.9,147.2L146.9,141.4L148.9,135.0L150.9,128.0L152.9,120.6L154.9,112.9L156.9,105.0L158.9,97.0L160.9,89.0L162.9,81.3L164.9,73.9L166.9,67.2L168.9,61.2L170.9,56.0L172.9,51.5L174.9,47.6L176.9,44.2L178.9,41.3L180.9,38.8L182.9,36.7L184.9,34.9L186.9,33.4L188.9,32.2L190.9,31.2L192.9,30.5L194.9,30.0L196.9,29.8L198.9,29.9L200.9,30.4L202.9,31.1L204.9,32.2L206.9,33.6L208.9,35.2L210.9,36.9L212.9,38.8L214.9,40.8L216.9,42.9L218.9,44.9L220.9,47.1L222.9,49.2L224.9,51.4L226.9,53.6L228.9,55.8L230.9,58.1L232.9,60.3L234.9,62.6L236.9,64.9L238.9,67.3L240.9,69.6L242.9,72.0L244.9,74.3L246.9,76.7L248.9,79.1L250.9,81.5L252.9,83.9L254.9,86.3L256.9,88.7L258.9,91.2L260.9,93.6L262.9,96.0L264.9,98.4L266.9,100.8L268.9,103.2L270.9,105.6L272.9,108.0L274.9,110.4L276.9,112.7L278.9,115.0L280.9,117.3L282.9,119.6L284.9,121.8L286.9,124.0L288.9,126.2L290.9,128.3L292.9,130.4L294.9,132.5L296.9,134.5L298.9,136.5L300.9,138.4L302.9,140.3L304.9,142.2L306.9,144.0L308.9,145.8L310.9,147.6L312.9,149.3L314.9,151.0L316.9,152.6L318.9,154.2L320.9,155.8L322.9,157.3L324.9,158.8L326.9,160.2L328.9,161.7L330.9,163.0L332.9,164.4L334.9,165.7L336.9,167.0L338.9,168.3L340.9,169.6L342.9,170.8L344.9,172.0L346.9,173.2L348.9,174.3L350.9,175.4L352.9,176.5L354.9,177.6L356.9,178.6L358.9,179.7L360.9,180.7L362.9,181.7L364.9,182.6L366.9,183.6L368.9,184.5L370.9,185.4L372.9,186.3L374.9,187.2L376.9,188.0L378.9,188.9L380.9,189.7L382.9,190.5L384.9,191.3L386.9,192.1L388.9,192.8L390.9,193.6L392.9,194.3L394.9,195.0L396.9,195.7L398.9,196.4L400.9,197.1L402.9,197.7L404.9,198.4L406.9,199.0L408.9,199.7L410.9,200.3L412.9,200.9L414.9,201.5L416.9,202.0L418.9,202.6L420.9,203.2L422.9,203.7L424.9,204.2L426.9,204.8L428.9,205.3L430.9,205.8L432.9,206.3L434.9,206.8L436.9,207.3L438.9,207.7L440.9,208.2L442.9,208.6L444.9,209.1L446.9,209.5L448.9,209.9L450.9,210.4L452.5,210.7" stroke="#000" stroke-width="0.7"/>
</g>
<rect x="82.5" y="0.8" width="370.1" height="228.9" fill="none" stroke="#000" stroke-width="2.2"/>
<path d="M82.90,229.7v-2.6M82.90,0.8v2.6M99.70,229.7v-2.6M99.70,0.8v2.6M116.50,229.7v-4.2M116.50,0.8v4.2M133.30,229.7v-2.6M133.30,0.8v2.6M150.10,229.7v-2.6M150.10,0.8v2.6M166.90,229.7v-2.6M166.90,0.8v2.6M183.70,229.7v-2.6M183.70,0.8v2.6M200.50,229.7v-4.2M200.50,0.8v4.2M217.30,229.7v-2.6M217.30,0.8v2.6M234.10,229.7v-2.6M234.10,0.8v2.6M250.90,229.7v-2.6M250.90,0.8v2.6M267.70,229.7v-2.6M267.70,0.8v2.6M284.50,229.7v-4.2M284.50,0.8v4.2M301.30,229.7v-2.6M301.30,0.8v2.6M318.10,229.7v-2.6M318.10,0.8v2.6M334.90,229.7v-2.6M334.90,0.8v2.6M351.70,229.7v-2.6M351.70,0.8v2.6M368.50,229.7v-4.2M368.50,0.8v4.2M385.30,229.7v-2.6M385.30,0.8v2.6M402.10,229.7v-2.6M402.10,0.8v2.6M418.90,229.7v-2.6M418.90,0.8v2.6M435.70,229.7v-2.6M435.70,0.8v2.6M452.50,229.7v-4.2M452.50,0.8v4.2M82.5,229.90h4.2M452.6,229.90h-4.2M82.5,219.50h2.6M452.6,219.50h-2.6M82.5,209.10h2.6M452.6,209.10h-2.6M82.5,198.70h2.6M452.6,198.70h-2.6M82.5,188.30h2.6M452.6,188.30h-2.6M82.5,177.90h4.2M452.6,177.90h-4.2M82.5,167.50h2.6M452.6,167.50h-2.6M82.5,157.10h2.6M452.6,157.10h-2.6M82.5,146.70h2.6M452.6,146.70h-2.6M82.5,136.30h2.6M452.6,136.30h-2.6M82.5,125.90h4.2M452.6,125.90h-4.2M82.5,115.50h2.6M452.6,115.50h-2.6M82.5,105.10h2.6M452.6,105.10h-2.6M82.5,94.70h2.6M452.6,94.70h-2.6M82.5,84.30h2.6M452.6,84.30h-2.6M82.5,73.90h4.2M452.6,73.90h-4.2M82.5,63.50h2.6M452.6,63.50h-2.6M82.5,53.10h2.6M452.6,53.10h-2.6M82.5,42.70h2.6M452.6,42.70h-2.6M82.5,32.30h2.6M452.6,32.30h-2.6M82.5,21.90h4.2M452.6,21.90h-4.2M82.5,11.50h2.6M452.6,11.50h-2.6" stroke="#000" stroke-width="1.8" fill="none"/>
<path d="M340.1,49.9H371.9" stroke="#000" stroke-width="2.1"/>
<path d="M340.1,68.2H371.9" stroke="#ff0000" stroke-width="2.1" stroke-dasharray="7.5,3.1"/>
<path d="M340.1,86.5H371.9" stroke="#0000ff" stroke-width="2.1" stroke-dasharray="3.1,2.4"/>
</svg>
<div style="position:absolute;left:0;top:0;width:474px;height:296px;will-change:transform;">
<div class="t yl" style="top:220.5px">0.00</div>
<div class="t yl" style="top:168.5px">0.05</div>
<div class="t yl" style="top:116.5px">0.10</div>
<div class="t yl" style="top:64.5px">0.15</div>
<div class="t yl" style="top:12.5px">0.20</div>
<div class="t xl" style="left:86.0px;top:235.3px">300</div>
<div class="t xl" style="left:170.0px;top:235.3px">400</div>
<div class="t xl" style="left:254.0px;top:235.3px">500</div>
<div class="t xl" style="left:338.0px;top:235.3px">600</div>
<div class="t xl" style="left:422.0px;top:235.3px">700</div>
<div class="t lg" style="top:43.9px">NNLO</div>
<div class="t lg" style="top:62.2px">NLO</div>
<div class="t lg" style="top:80.5px">LO</div>
<div id="ylab" style="position:absolute;left:26.0px;top:184.8px;width:0;height:0;transform:rotate(-90deg);transform-origin:0 0;font-size:19.2px;"><span style="left:-1.74px;">d</span><span style="left:10.27px;font-style:italic;display:inline-block;transform:scaleX(1.3);transform-origin:50% 50%;">σ</span><span style="left:23.16px;">/</span><span style="left:33.01px;">d</span><span style="left:43.50px;">Q</span><span style="left:59.14px;">(</span><span style="left:68.25px;">f</span><span style="left:74.54px;">b</span><span style="left:87.51px;">/</span><span style="left:97.40px;">G</span><span style="left:110.73px;">e</span><span style="left:120.79px;">V</span><span style="left:134.63px;">)</span></div>
<div id="xlab" style="position:absolute;left:0;top:281.7px;width:0;height:0;font-size:19.2px;"><span style="left:232.70px;font-style:italic;">Q</span><span style="left:248.14px;">(</span><span style="left:258.40px;">G</span><span style="left:271.78px;">e</span><span style="left:281.74px;">V</span><span style="left:295.13px;">)</span></div>
</div>
</body></html>
